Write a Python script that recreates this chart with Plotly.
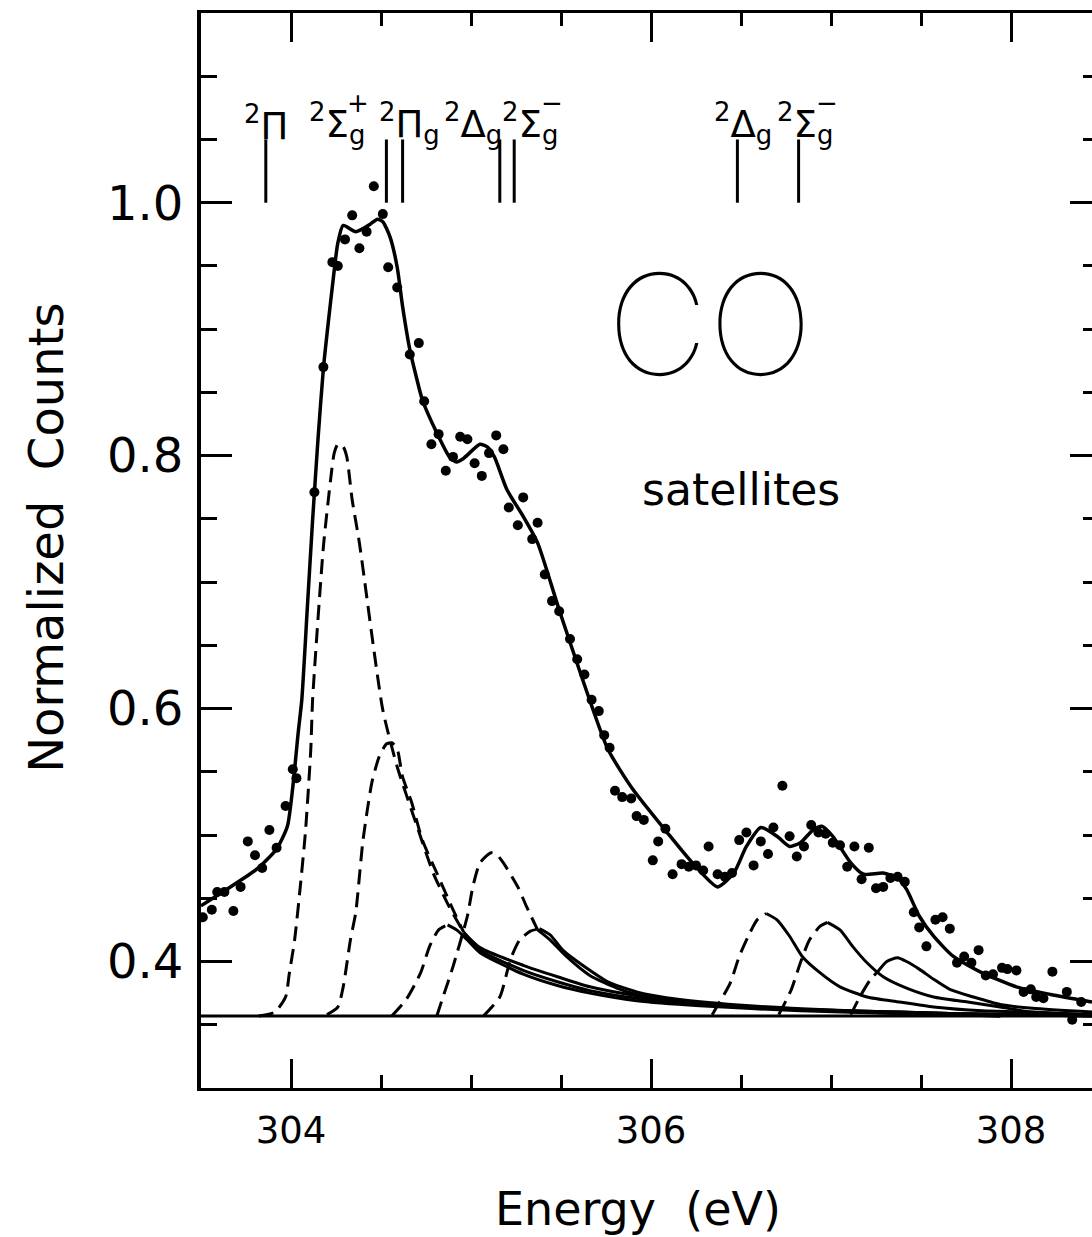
import plotly.graph_objects as go

# ---------------- data ----------------
# measured points (dots)
pts_x = [303.51, 303.56, 303.59, 303.63, 303.68, 303.72, 303.76, 303.80, 303.84, 303.88,
         303.92, 303.97, 304.01, 304.03, 304.13, 304.18, 304.23, 304.26, 304.30, 304.34,
         304.38, 304.42, 304.46, 304.51, 304.54, 304.59, 304.66, 304.71, 304.74, 304.78,
         304.82, 304.86, 304.90, 304.94, 304.98, 305.02, 305.06, 305.10, 305.14, 305.18,
         305.21, 305.26, 305.29, 305.34, 305.37, 305.41, 305.45, 305.49, 305.55, 305.59,
         305.63, 305.67, 305.71, 305.74, 305.77, 305.80, 305.84, 305.89, 305.92, 305.96,
         306.01, 306.04, 306.08, 306.12, 306.17, 306.21, 306.25, 306.29, 306.32, 306.37,
         306.41, 306.45, 306.49, 306.53, 306.57, 306.61, 306.65, 306.68, 306.73, 306.77,
         306.81, 306.85, 306.89, 306.93, 306.97, 307.01, 307.05, 307.09, 307.13, 307.17,
         307.21, 307.25, 307.29, 307.33, 307.37, 307.41, 307.46, 307.49, 307.53, 307.58,
         307.62, 307.66, 307.70, 307.74, 307.78, 307.82, 307.86, 307.90, 307.95, 307.98,
         308.03, 308.07, 308.11, 308.14, 308.18, 308.23, 308.31, 308.34, 308.39]
pts_y = [0.435, 0.441, 0.455, 0.455, 0.440, 0.459, 0.495, 0.484, 0.474, 0.504,
         0.490, 0.523, 0.552, 0.545, 0.771, 0.870, 0.953, 0.950, 0.971, 0.990,
         0.964, 0.977, 1.013, 0.991, 0.949, 0.933, 0.880, 0.889, 0.843, 0.809,
         0.817, 0.788, 0.799, 0.815, 0.813, 0.794, 0.784, 0.802, 0.816, 0.805,
         0.759, 0.745, 0.767, 0.734, 0.747, 0.706, 0.685, 0.677, 0.655, 0.639,
         0.627, 0.607, 0.598, 0.579, 0.569, 0.535, 0.530, 0.529, 0.515, 0.512,
         0.480, 0.495, 0.505, 0.469, 0.477, 0.475, 0.476, 0.472, 0.491, 0.469,
         0.467, 0.470, 0.496, 0.502, 0.476, 0.495, 0.485, 0.506, 0.539, 0.499,
         0.483, 0.491, 0.508, 0.502, 0.501, 0.494, 0.492, 0.475, 0.491, 0.465,
         0.490, 0.458, 0.459, 0.466, 0.467, 0.463, 0.439, 0.427, 0.412, 0.433,
         0.435, 0.426, 0.399, 0.404, 0.399, 0.409, 0.389, 0.390, 0.395, 0.394,
         0.393, 0.376, 0.378, 0.372, 0.371, 0.392, 0.376, 0.354, 0.368]

# total fit (solid)
fit_x = [303.50, 303.62, 303.81, 303.92, 303.98, 304.01, 304.04, 304.06, 304.09, 304.12,
         304.15, 304.18, 304.21, 304.23, 304.26, 304.29, 304.36, 304.44, 304.48, 304.51,
         304.55, 304.59, 304.62, 304.66, 304.70, 304.73, 304.81, 304.88, 304.92, 304.96,
         305.05, 305.09, 305.13, 305.20, 305.29, 305.37, 305.49, 305.62, 305.76, 305.90,
         306.09, 306.23, 306.37, 306.46, 306.53, 306.61, 306.70, 306.77, 306.83, 306.90,
         306.95, 307.01, 307.11, 307.18, 307.29, 307.37, 307.42, 307.49, 307.57, 307.68,
         307.84, 308.03, 308.22, 308.45]
fit_y = [0.444, 0.455, 0.473, 0.489, 0.507, 0.538, 0.581, 0.607, 0.678, 0.749,
         0.813, 0.869, 0.909, 0.934, 0.968, 0.982, 0.977, 0.983, 0.987, 0.985,
         0.973, 0.949, 0.918, 0.884, 0.860, 0.844, 0.818, 0.799, 0.795, 0.798,
         0.809, 0.807, 0.799, 0.773, 0.752, 0.731, 0.678, 0.623, 0.568, 0.536,
         0.502, 0.478, 0.459, 0.470, 0.491, 0.506, 0.499, 0.491, 0.494, 0.504,
         0.507, 0.499, 0.478, 0.469, 0.470, 0.466, 0.457, 0.436, 0.420, 0.404,
         0.391, 0.380, 0.374, 0.368]

# background level
base_x = [303.50, 308.45]
base_y = [0.357, 0.357]

# fitted components: dashed part then solid part
c1_dash_x = [303.82, 303.91, 303.97, 303.99, 304.02, 304.05, 304.08, 304.11, 304.12, 304.18,
             304.22, 304.24, 304.26, 304.29, 304.31, 304.34, 304.38, 304.51, 304.59, 304.70,
             304.79, 304.88, 304.96]
c1_dash_y = [0.357, 0.360, 0.372, 0.390, 0.417, 0.457, 0.502, 0.568, 0.607, 0.728,
             0.781, 0.802, 0.809, 0.807, 0.799, 0.765, 0.731, 0.599, 0.554, 0.507,
             0.470, 0.443, 0.423]
c1_solid_x = [304.96, 305.05, 305.29, 305.48, 305.66, 305.92, 306.27, 306.83, 307.38, 307.94, 308.45]
c1_solid_y = [0.423, 0.411, 0.397, 0.388, 0.380, 0.373, 0.367, 0.362, 0.360, 0.358, 0.357]

c2_dash_x = [304.20, 304.26, 304.29, 304.33, 304.36, 304.40, 304.45, 304.49, 304.53, 304.56,
             304.59, 304.62, 304.67, 304.73, 304.81, 304.90, 304.96]
c2_dash_y = [0.358, 0.364, 0.380, 0.417, 0.439, 0.496, 0.542, 0.562, 0.572, 0.573,
             0.568, 0.546, 0.526, 0.496, 0.470, 0.441, 0.423]
c2_solid_x = [304.96, 305.05, 305.29, 305.48, 305.66, 305.92, 306.27, 306.83, 307.38, 307.94]
c2_solid_y = [0.423, 0.409, 0.393, 0.384, 0.377, 0.371, 0.366, 0.362, 0.359, 0.357]

c3_dash_x = [304.56, 304.64, 304.72, 304.77, 304.82, 304.87]
c3_dash_y = [0.357, 0.370, 0.391, 0.412, 0.425, 0.429]
c3_solid_x = [304.87, 304.92, 304.98, 305.05, 305.29, 305.48, 305.66, 305.92, 306.27, 306.83, 307.38, 307.94]
c3_solid_y = [0.429, 0.425, 0.417, 0.407, 0.390, 0.381, 0.375, 0.369, 0.365, 0.361, 0.359, 0.357]

c4_dash_x = [304.81, 304.84, 304.90, 304.98, 305.01, 305.05, 305.11, 305.14, 305.18, 305.26, 305.31, 305.37]
c4_dash_y = [0.357, 0.370, 0.396, 0.436, 0.459, 0.478, 0.486, 0.485, 0.478, 0.459, 0.443, 0.425]
c4_solid_x = [305.37, 305.44, 305.53, 305.66, 305.81, 305.92, 306.27, 306.83, 307.38, 307.94, 308.45]
c4_solid_y = [0.425, 0.417, 0.404, 0.389, 0.379, 0.374, 0.367, 0.362, 0.360, 0.358, 0.357]

c5_dash_x = [305.07, 305.16, 305.22, 305.27, 305.33, 305.38]
c5_dash_y = [0.357, 0.372, 0.402, 0.417, 0.424, 0.426]
c5_solid_x = [305.38, 305.44, 305.51, 305.62, 305.76, 305.92, 306.16, 306.55, 307.11, 307.66, 308.22]
c5_solid_y = [0.426, 0.421, 0.409, 0.397, 0.384, 0.376, 0.370, 0.365, 0.361, 0.359, 0.358]

c6_dash_x = [306.34, 306.44, 306.49, 306.54, 306.59, 306.64]
c6_dash_y = [0.358, 0.383, 0.404, 0.420, 0.433, 0.438]
c6_solid_x = [306.64, 306.70, 306.77, 306.84, 306.94, 307.05, 307.20, 307.38, 307.57, 307.84, 308.12, 308.45]
c6_solid_y = [0.438, 0.433, 0.420, 0.404, 0.391, 0.380, 0.372, 0.368, 0.364, 0.361, 0.360, 0.358]

c7_dash_x = [306.71, 306.78, 306.83, 306.88, 306.94, 306.98]
c7_dash_y = [0.358, 0.378, 0.399, 0.417, 0.428, 0.431]
c7_solid_x = [306.98, 307.05, 307.12, 307.20, 307.29, 307.42, 307.57, 307.76, 307.94, 308.12, 308.45]
c7_solid_y = [0.431, 0.425, 0.412, 0.399, 0.388, 0.379, 0.372, 0.368, 0.364, 0.360, 0.358]

c8_dash_x = [307.11, 307.16, 307.22, 307.26]
c8_dash_y = [0.358, 0.372, 0.386, 0.392]
c8_solid_x = [307.26, 307.31, 307.37, 307.42, 307.49, 307.57, 307.66, 307.79, 307.94, 308.12, 308.45]
c8_solid_y = [0.392, 0.400, 0.403, 0.400, 0.394, 0.386, 0.378, 0.372, 0.366, 0.363, 0.360]

# term positions (vertical markers)
term_x = [303.86, 304.53, 304.62, 305.16, 305.24, 306.48, 306.82]
term_y_low = 1.0
term_y_high = 1.05

# term labels
term_labels = ["<sup>2</sup>Π", "<sup>2</sup>Σ<sub>g</sub>", "<sup>2</sup>Π<sub>g</sub>",
               "<sup>2</sup>Δ<sub>g</sub>", "<sup>2</sup>Σ<sub>g</sub>",
               "<sup>2</sup>Δ<sub>g</sub>", "<sup>2</sup>Σ<sub>g</sub>"]
term_signs = ["+", "−", "−"]

# ---------------- layout helpers ----------------
label_left = [303.73, 304.09, 304.48, 304.84, 305.16, 306.34, 306.69]
sign_pos = [304.37, 305.45, 306.98]

FONT = "DejaVu Sans"
DASH = "15px,8px"
BLACK = "#000000"

fig = go.Figure()

fig.add_trace(go.Scatter(x=base_x, y=base_y, mode="lines",
                         line=dict(color=BLACK, width=3), hoverinfo="skip"))

comps = [(c1_dash_x, c1_dash_y, c1_solid_x, c1_solid_y),
         (c2_dash_x, c2_dash_y, c2_solid_x, c2_solid_y),
         (c3_dash_x, c3_dash_y, c3_solid_x, c3_solid_y),
         (c4_dash_x, c4_dash_y, c4_solid_x, c4_solid_y),
         (c5_dash_x, c5_dash_y, c5_solid_x, c5_solid_y),
         (c6_dash_x, c6_dash_y, c6_solid_x, c6_solid_y),
         (c7_dash_x, c7_dash_y, c7_solid_x, c7_solid_y),
         (c8_dash_x, c8_dash_y, c8_solid_x, c8_solid_y)]
for dx, dy, sx, sy in comps:
    fig.add_trace(go.Scatter(x=dx, y=dy, mode="lines",
                             line=dict(color=BLACK, width=3, dash=DASH, shape="spline", smoothing=0.6),
                             hoverinfo="skip"))
    fig.add_trace(go.Scatter(x=sx, y=sy, mode="lines",
                             line=dict(color=BLACK, width=3, shape="spline", smoothing=0.6),
                             hoverinfo="skip"))

fig.add_trace(go.Scatter(x=fit_x, y=fit_y, mode="lines",
                         line=dict(color=BLACK, width=3.5, shape="spline", smoothing=0.6),
                         hoverinfo="skip"))

fig.add_trace(go.Scatter(x=pts_x, y=pts_y, mode="markers",
                         marker=dict(color=BLACK, size=10, line=dict(width=0)),
                         hoverinfo="skip"))

# term marker lines
tx, ty = [], []
for xv in term_x:
    tx += [xv, xv, None]
    ty += [term_y_low, term_y_high, None]
fig.add_trace(go.Scatter(x=tx, y=ty, mode="lines", line=dict(color=BLACK, width=3),
                         hoverinfo="skip"))

# right-hand ticks
fig.add_trace(go.Scatter(x=[None], y=[None], yaxis="y2", hoverinfo="skip"))

annotations = []
for lab, lx in zip(term_labels, label_left):
    annotations.append(dict(x=lx, y=1.0625, xref="x", yref="y", text=lab, showarrow=False,
                            xanchor="left", yanchor="middle",
                            font=dict(family=FONT, size=37, color=BLACK)))
for s, sx in zip(term_signs, sign_pos):
    annotations.append(dict(x=sx, y=1.079, xref="x", yref="y", text=s, showarrow=False,
                            xanchor="center", yanchor="middle",
                            font=dict(family=FONT, size=26, color=BLACK)))
annotations.append(dict(x=306.33, y=0.904, xref="x", yref="y", text="CO", showarrow=False,
                        xanchor="center", yanchor="middle",
                        font=dict(family="Inter, DejaVu Sans", size=140, color=BLACK, weight=100)))
annotations.append(dict(x=306.50, y=0.773, xref="x", yref="y", text="satellites", showarrow=False,
                        xanchor="center", yanchor="middle",
                        font=dict(family=FONT, size=44, color=BLACK)))
annotations.append(dict(x=305.93, y=0, xref="x", yref="paper", yshift=-121,
                        text="Energy\u00a0\u00a0(eV)", showarrow=False,
                        xanchor="center", yanchor="middle",
                        font=dict(family=FONT, size=46, color=BLACK)))
annotations.append(dict(x=0, y=0.735, xref="paper", yref="y", xshift=-155,
                        text="Normalized\u00a0\u00a0Counts", showarrow=False, textangle=-90,
                        xanchor="center", yanchor="middle",
                        font=dict(family=FONT, size=48, color=BLACK)))

fig.update_layout(
    width=1092, height=1237,
    margin=dict(l=201, r=0, t=13, b=149),
    paper_bgcolor="white", plot_bgcolor="white",
    showlegend=False,
    annotations=annotations,
    xaxis=dict(range=[303.5, 308.45], tick0=304, dtick=2, ticks="inside", ticklen=29,
               tickwidth=3, tickcolor=BLACK, showline=True, linewidth=3, linecolor=BLACK,
               mirror="ticks", showgrid=False, zeroline=False,
               tickfont=dict(family=FONT, size=37, color=BLACK), ticklabelstandoff=8,
               minor=dict(dtick=0.5, ticks="inside", ticklen=13, tickwidth=3,
                          tickcolor=BLACK, showgrid=False)),
    yaxis=dict(range=[0.30, 1.15], tick0=0, dtick=0.2, tickformat=".1f", ticks="inside",
               ticklen=31, tickwidth=3, tickcolor=BLACK, showline=True, linewidth=4,
               linecolor=BLACK, showgrid=False, zeroline=False,
               tickfont=dict(family=FONT, size=48, color=BLACK), ticklabelstandoff=4,
               minor=dict(dtick=0.05, ticks="inside", ticklen=16, tickwidth=3,
                          tickcolor=BLACK, showgrid=False)),
    yaxis2=dict(range=[0.30, 1.15], overlaying="y", side="right", tick0=0, dtick=0.2,
                ticks="inside", ticklen=22, tickwidth=3, tickcolor=BLACK,
                showticklabels=False, showline=False, showgrid=False, zeroline=False,
                minor=dict(dtick=0.05, ticks="inside", ticklen=9, tickwidth=3,
                           tickcolor=BLACK, showgrid=False)),
)

fig.write_html("out.html")
